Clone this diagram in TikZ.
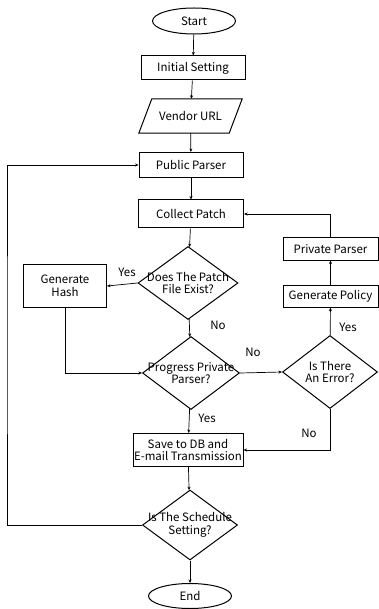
\documentclass[tikz,border=0pt]{standalone}
\usepackage{fontspec}
\setmainfont{Noto Sans CJK KR}
\usetikzlibrary{positioning, arrows.meta, shapes.geometric, calc}

\tikzset{
  flowbox/.style={draw, line width=1pt, minimum width=104pt, minimum height=25pt,
                  inner sep=1pt, align=center},
  terminal/.style={draw, ellipse, line width=1pt, minimum width=83pt,
                   minimum height=26pt, inner sep=0pt},
  inout/.style={minimum width=90pt, minimum height=34pt, inner sep=0pt},
  decision/.style={draw, diamond, line width=1pt, inner sep=0pt},
  flow/.style={-{Stealth[length=3.5pt, width=3pt]}, line width=0.7pt},
  answer/.style={inner sep=0pt}
}

\begin{document}
\begin{tikzpicture}[x=1pt, y=-1pt, font=\fontsize{11.5}{12.5}\selectfont]
  \useasboundingbox (0,0) rectangle (379,609);

  % main column
  \node[terminal] (start) at (194,21) {Start};
  \node[flowbox, minimum height=24pt] (init) at (193,68) {Initial Setting};
  \node[inout] (vendor) at (190.5,116) {Vendor URL};
  \draw[line width=1pt] ($(vendor.south west)+(-6.5,0)$) -- ($(vendor.south east)+(-6.5,0)$)
    -- ($(vendor.north east)+(6.5,0)$) -- ($(vendor.north west)+(6.5,0)$) -- cycle;
  \node[flowbox] (public) at (191,165) {Public Parser};
  \node[flowbox, minimum width=105pt, minimum height=28pt] (collect) at (191,214) {Collect Patch};
  \node[decision, minimum width=100pt, minimum height=73pt,
        label={[align=center]center:Does The Patch\\File Exist?}] (qpatch) at (188,283) {};
  \node[decision, minimum width=97pt, minimum height=73pt,
        label={[align=center]center:Progress Private\\Parser?}] (qprog) at (191,373) {};
  \node[flowbox, minimum width=110pt, minimum height=33pt] (save) at (188,450)
        {Save to DB and\\E-mail Transmission};
  \node[decision, minimum width=95pt, minimum height=70pt,
        label={[align=center]center:Is The Schedule\\Setting?}] (qsched) at (190,525) {};
  \node[terminal, minimum height=25pt] (end) at (190,596) {End};

  % left and right branches
  \node[flowbox, minimum width=83pt, minimum height=43pt] (hash) at (65,286) {Generate\\Hash};
  \node[decision, minimum width=95pt, minimum height=73pt,
        label={[align=center]center:Is There\\An Error?}] (qerr) at (330,372) {};
  \node[flowbox, minimum width=95pt, minimum height=22pt] (policy) at (330.5,296) {Generate Policy};
  \node[flowbox, minimum width=95pt, minimum height=22pt] (private) at (330.5,249) {Private Parser};
  \coordinate (loop) at (7,345);

  % answers
  \node[answer] (yes1) at (127,272) {Yes};
  \node[answer] (no1) at (218,325) {No};
  \node[answer] (no2) at (253,352) {No};
  \node[answer] (yes2) at (348,327) {Yes};
  \node[answer] (yes3) at (207,418) {Yes};
  \node[answer] (no3) at (309,433) {No};

  \draw[flow] (start) -- (init);
  \draw[flow] (init) -- (vendor);
  \draw[flow] (vendor) -- (public);
  \draw[flow] (public) -- (collect);
  \draw[flow] (collect) -- (qpatch);
  \draw[flow] (qpatch.west) -- (hash.east);
  \draw[flow] (qpatch) -- (qprog);
  \draw[flow] (hash.south) |- (qprog.west);
  \draw[flow] (qprog.east) -- (qerr.west);
  \draw[flow] (qerr) -- (policy);
  \draw[flow] (policy) -- (private);
  \draw[flow] (private.north) |- (collect.east);
  \draw[flow] (qprog) -- (save);
  \draw[flow] (qerr.south) |- (save.east);
  \draw[flow] (save) -- (qsched);
  \draw[flow] (qsched) -- (end);
  \draw[flow] (qsched.west) -| (loop) |- (public.west);
\end{tikzpicture}
\end{document}
